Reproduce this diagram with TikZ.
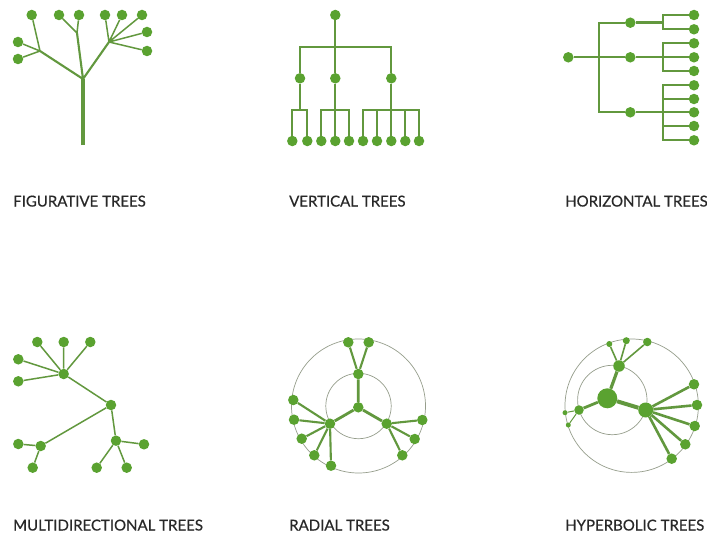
\documentclass[tikz,border=0pt]{standalone}
\usepackage{fontspec}
\setmainfont[FakeBold=0.5]{Lato}
\definecolor{tg}{RGB}{90,162,48}
\definecolor{tl}{RGB}{98,152,62}
\definecolor{ring}{RGB}{150,158,140}
\definecolor{lblgray}{RGB}{40,40,40}
\begin{document}
\begin{tikzpicture}[x=1pt,y=-1pt,
  dot/.style={circle,fill=tg,inner sep=0pt,minimum size=10.5pt},
  br/.style={draw=tl,line width=2.1pt},
  tw/.style={draw=tl,line width=1.5pt},
  rg/.style={draw=ring,line width=0.7pt},
  lbl/.style={anchor=base west,text=lblgray,inner sep=0pt,font=\fontsize{15}{15}\selectfont}]
\useasboundingbox (0,0) rectangle (707,535);
\fill[white] (0,0) rectangle (707,535);

% ---------- figurative ----------
\coordinate (f0) at (83,145);
\coordinate (fj) at (83,79);
\coordinate (fl) at (40,51);
\coordinate (fm) at (77,33);
\coordinate (fr) at (109,42);
\node[dot] (fa) at (31.7,15) {};
\node[dot] (fb) at (59,15) {};
\node[dot] (fc) at (79,15) {};
\node[dot] (fd) at (105,15) {};
\node[dot] (fe) at (122,15) {};
\node[dot] (ff) at (142,15) {};
\node[dot] (fg) at (147,32) {};
\node[dot] (fh) at (147,51) {};
\node[dot] (fi) at (18,42) {};
\node[dot] (fk) at (18,59) {};
\draw[draw=tl,line width=3.2pt] (f0) -- (fj);
\draw[br] (fj) -- (fl) (fj) -- (fm) (fj) -- (fr);
\draw[tw] (fl) -- (fa) (fl) -- (fi) (fl) -- (fk);
\draw[tw] (fm) -- (fb) (fm) -- (fc);
\draw[tw] (fr) -- (fd) (fr) -- (fe) (fr) -- (ff) (fr) -- (fg) (fr) -- (fh);
\node[lbl] (t1) at (13,206.5) {FIGURATIVE TREES};

% ---------- vertical ----------
\node[dot] (v0) at (335.3,15) {};
\node[dot] (v1) at (300,78.3) {};
\node[dot] (v2) at (335.3,78.3) {};
\node[dot] (v3) at (391.3,78.3) {};
\foreach \i/\x in {1/292.3,2/307.3,3/321.3,4/335.3,5/349,6/363,7/377,8/391.3,9/405.3,10/419}
  \node[dot] (l\i) at (\x,141) {};
\coordinate (vb) at (0,46.7);
\coordinate (vy) at (0,110);
\draw[br] (v0) -- (v2);
\draw[br] (v1) -- (v1 |- vb) -- (v3 |- vb) -- (v3);
\draw[br] (v1) -- (v1 |- vy);
\draw[br] (l1) -- (l1 |- vy) -- (l2 |- vy) -- (l2);
\draw[br] (l3) -- (l3 |- vy) -- (l5 |- vy) -- (l5);
\draw[br] (v2) -- (l4);
\draw[br] (l6) -- (l6 |- vy) -- (l10 |- vy) -- (l10);
\draw[br] (v3) -- (l8);
\draw[br] (l7) -- (l7 |- vy);
\draw[br] (l9) -- (l9 |- vy);
\node[lbl] (t2) at (289,206.5) {VERTICAL TREES};

% ---------- horizontal ----------
\node[dot] (h0) at (568.3,57.3) {};
\node[dot] (h1) at (630.3,22.7) {};
\node[dot] (h2) at (630.3,57.3) {};
\node[dot] (h3) at (630.3,112.3) {};
\foreach \i/\y in {1/15,2/29.3,3/43.3,4/57.3,5/71,6/85.3,7/99,8/112.3,9/126,10/140.3}
  \node[dot] (k\i) at (694,\y) {};
\coordinate (hx) at (599.3,0);
\coordinate (kx) at (663.3,0);
\draw[br] (h0) -- (h2);
\draw[br] (h1) -- (h1 -| hx) -- (h3 -| hx) -- (h3);
\draw[br] (k1) -- (k1 -| kx) -- (k2 -| kx) -- (k2);
\draw[draw=tl,line width=3pt] (h1) -- (h1 -| kx);
\draw[br] (k3) -- (k3 -| kx) -- (k5 -| kx) -- (k5);
\draw[br] (h2) -- (k4);
\draw[br] (k6) -- (k6 -| kx) -- (k10 -| kx) -- (k10);
\draw[br] (k7) -- (k7 -| kx);
\draw[br] (k9) -- (k9 -| kx);
\draw[br] (h3) -- (k8);
\node[lbl] (t3) at (565,206.5) {HORIZONTAL TREES};

% ---------- multidirectional ----------
\node[dot] (ma) at (63.7,374) {};
\node[dot] (m1) at (37.3,342) {};
\node[dot] (m2) at (63.7,342) {};
\node[dot] (m3) at (90.3,342) {};
\node[dot] (m4) at (18.3,359.3) {};
\node[dot] (m5) at (18.3,381.3) {};
\node[dot] (mb) at (111,405) {};
\node[dot] (mc) at (40.7,446) {};
\node[dot] (m6) at (18.3,444) {};
\node[dot] (m7) at (32.7,467.7) {};
\node[dot] (md) at (116,440.7) {};
\node[dot] (m8) at (144,444.3) {};
\node[dot] (m9) at (96.7,467.7) {};
\node[dot] (m10) at (126.7,467.7) {};
\draw[tw] (ma) -- (m1) (ma) -- (m2) (ma) -- (m3) (ma) -- (m4) (ma) -- (m5);
\draw[tw] (ma) -- (mb) (mb) -- (mc) (mb) -- (md);
\draw[tw] (mc) -- (m6) (mc) -- (m7);
\draw[tw] (md) -- (m8) (md) -- (m9) (md) -- (m10);
\node[lbl] (t4) at (13,530.5) {MULTIDIRECTIONAL TREES};

% ---------- radial ----------
\draw[rg] (358.5,406) circle[radius=32.7pt];
\draw[rg] (358.5,406) circle[radius=67pt];
\node[dot] (r0) at (358.3,407.3) {};
\node[dot] (ra) at (358.3,374) {};
\node[dot] (rb) at (330,423.7) {};
\node[dot] (rc) at (386.7,423.7) {};
\node[dot] (r1) at (348.3,342.3) {};
\node[dot] (r2) at (368.7,342.3) {};
\node[dot] (r3) at (293.3,400) {};
\node[dot] (r4) at (294,419.7) {};
\node[dot] (r5) at (301.7,438.7) {};
\node[dot] (r6) at (314.3,455.3) {};
\node[dot] (r7) at (331,465.7) {};
\node[dot] (r8) at (422.3,420) {};
\node[dot] (r9) at (414.7,439) {};
\node[dot] (r10) at (402.3,455.3) {};
\draw[draw=tl,line width=2.8pt] (r0) -- (ra) (r0) -- (rb) (r0) -- (rc);
\draw[br] (ra) -- (r1) (ra) -- (r2);
\draw[br] (rb) -- (r3) (rb) -- (r4) (rb) -- (r5) (rb) -- (r6) (rb) -- (r7);
\draw[br] (rc) -- (r8) (rc) -- (r9) (rc) -- (r10);
\node[lbl] (t5) at (289,530.5) {RADIAL TREES};

% ---------- hyperbolic ----------
\draw[rg] (612.3,400) circle[radius=34.7pt];
\draw[rg] (631.7,405.7) circle[radius=66.7pt];
\node[dot,minimum size=20pt] (y0) at (607.3,398.3) {};
\node[dot,minimum size=15pt] (yb) at (645.7,410) {};
\node[dot,minimum size=11.5pt] (yt) at (619,366) {};
\node[dot,minimum size=9.5pt] (yl) at (579,410) {};
\node[dot,minimum size=6pt] (y1) at (609.3,344) {};
\node[dot,minimum size=7pt] (y2) at (626.3,340.7) {};
\node[dot,minimum size=8.5pt] (y3) at (647.3,342) {};
\node[dot] (y4) at (694,384.3) {};
\node[dot] (y5) at (697,405) {};
\node[dot] (y6) at (694.7,426) {};
\node[dot] (y7) at (685.3,444.3) {};
\node[dot] (y8) at (671.7,458.7) {};
\node[dot,minimum size=5pt] (y9) at (565,412.7) {};
\node[dot,minimum size=5pt] (y10) at (568.3,425) {};
\draw[draw=tl,line width=4pt] (y0) -- (yb);
\draw[draw=tl,line width=3.2pt] (y0) -- (yt);
\draw[draw=tl,line width=2.8pt] (y0) -- (yl);
\draw[draw=tl,line width=1.6pt] (yt) -- (y1) (yt) -- (y2) (yt) -- (y3);
\draw[draw=tl,line width=2.6pt] (yb) -- (y4) (yb) -- (y5) (yb) -- (y6) (yb) -- (y7) (yb) -- (y8);
\draw[draw=tl,line width=1pt] (yl) -- (y9) (yl) -- (y10);
\node[lbl] (t6) at (565,530.5) {HYPERBOLIC TREES};
\end{tikzpicture}
\end{document}
